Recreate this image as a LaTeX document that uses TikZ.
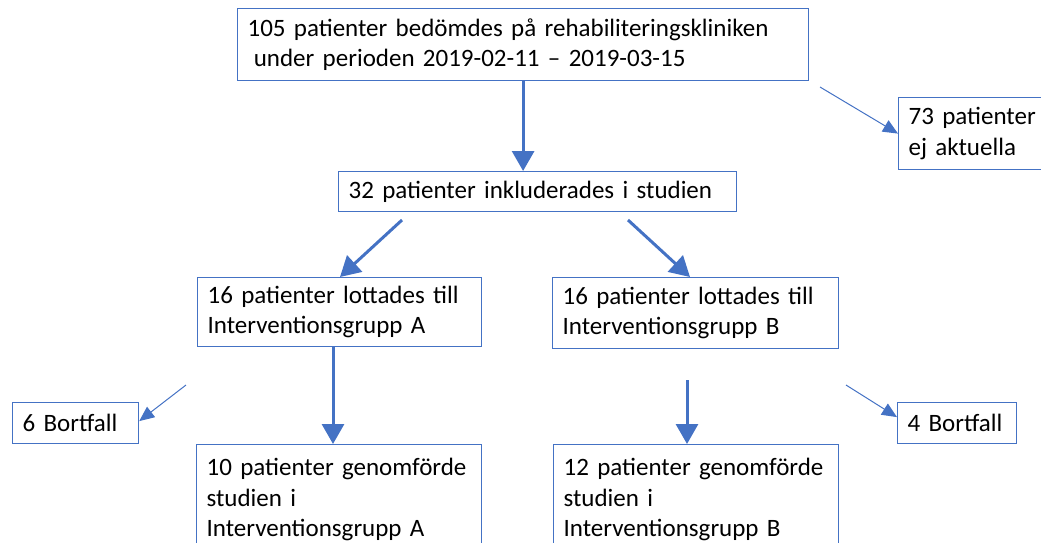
\documentclass[tikz,border=0pt]{standalone}
\usepackage{fontspec}
\setmainfont{Carlito}
\usepackage{tikz}
\usetikzlibrary{arrows.meta}
\definecolor{flowblue}{HTML}{4472C4}

\begin{document}
\begin{tikzpicture}[
  x=1pt, y=-1pt,
  font=\fontsize{25}{30.5}\selectfont,
  box/.style={draw=flowblue, line width=1.2pt, anchor=north west, align=left,
              inner xsep=10pt, inner ysep=0pt},
  flow/.style={draw=flowblue, line width=3pt, -{Triangle[length=20pt,width=22pt]}},
  side/.style={draw=flowblue, line width=1pt, -{Triangle[length=15pt,width=13pt]}},
]
\useasboundingbox (0,0) rectangle (1041,542);

% ===== screening =====
\node[box, text width=551pt, minimum height=72pt] (top) at (237,8)
  {105 patienter bedömdes på rehabiliteringskliniken\\
   \hspace{0.25em}under perioden 2019-02-11 – 2019-03-15};
\node[box, text width=128pt, minimum height=72pt] (skip) at (898,97)
  {73 patienter\\ej aktuella};
\node[box, text width=378pt, minimum height=40pt] (incl) at (338,171)
  {32 patienter inkluderades i studien};

% ===== randomisation =====
\node[box, text width=264pt, minimum height=69pt] (randA) at (197,277)
  {16 patienter lottades till\\Interventionsgrupp A};
\node[box, text width=266pt, minimum height=71pt] (randB) at (552,277)
  {16 patienter lottades till\\Interventionsgrupp B};

% ===== drop-outs and completed =====
\node[box, text width=106pt, minimum height=41pt] (lossA) at (12,402) {6 Bortfall};
\node[box, text width=99pt, minimum height=41pt] (lossB) at (897,402) {4 Bortfall};
\node[box, text width=265pt, minimum height=110pt] (doneA) at (196,444)
  {10 patienter genomförde\\studien i\\Interventionsgrupp A};
\node[box, text width=265pt, minimum height=110pt] (doneB) at (553,444)
  {12 patienter genomförde\\studien i\\Interventionsgrupp B};

% ===== connectors =====
\coordinate (topR) at (820,87);
\coordinate (inclL) at (402,220);
\coordinate (inclR) at (628,220);
\coordinate (bout) at (687,380);
\coordinate (lossAin) at (186,385);
\coordinate (lossBin) at (846,385);

\draw[flow] (top.south) -- (top.south |- incl.north);
\draw[side] (topR) -- (skip.west);
\draw[flow] (inclL) -- ([xshift=143pt]randA.north west);
\draw[flow] (inclR) -- ([xshift=138pt]randB.north west);
\draw[flow] ([xshift=136pt]randA.south west) -- ([xshift=137pt]doneA.north west);
\draw[flow] (bout) -- (bout |- doneB.north);
\draw[side] (lossAin) -- ([yshift=2pt]lossA.east);
\draw[side] (lossBin) -- ([yshift=6pt]lossB.west);

\end{tikzpicture}
\end{document}
